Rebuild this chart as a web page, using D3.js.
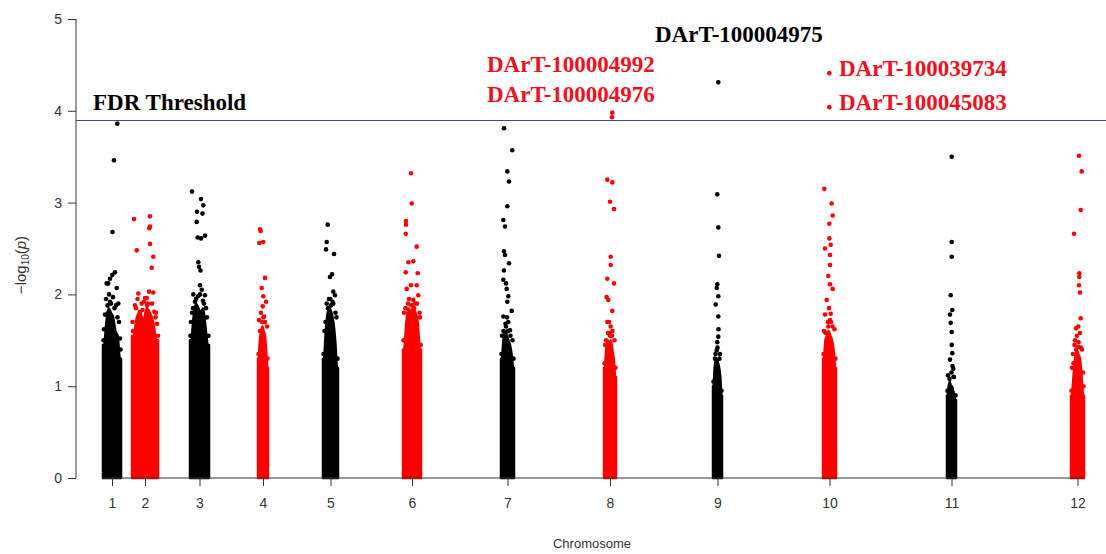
<!DOCTYPE html>
<html>
<head>
<meta charset="utf-8">
<script src="https://cdn.jsdelivr.net/npm/d3@7"></script>
<style>
  html, body { margin: 0; padding: 0; background: #fff; }
  svg { display: block; }
</style>
</head>
<body>
<svg id="chart" width="1106" height="554"></svg>
<script>
// ---------------- DATA ----------------
const chromosomes = ["1","2","3","4","5","6","7","8","9","10","11","12"];
// cumulative genome position span (arbitrary units) of each chromosome
const chrStart = [0, 29, 87, 155, 220, 300, 398, 501, 610, 720, 844, 968];
const chrEnd   = [18, 55, 106, 165, 235, 318, 411, 513, 619, 733, 853, 981];
const yTicks = [0, 1, 2, 3, 4, 5];
const fdrThreshold = 3.9;

// height of the saturated (overplotted) bulk of markers across each chromosome, -log10(p)
const coreTop = [
  [1.45, 1.7, 1.85, 1.8, 1.75, 1.6, 1.55, 1.3],
  [1.55, 1.75, 1.8, 1.7, 1.85, 1.8, 1.7, 1.5],
  [1.5, 1.75, 1.9, 1.85, 1.8, 1.85, 1.65, 1.45],
  [1.3, 1.5, 1.6, 1.65, 1.6, 1.55, 1.4, 1.2],
  [1.3, 1.6, 1.8, 1.85, 1.8, 1.7, 1.5, 1.2],
  [1.4, 1.7, 1.85, 1.8, 1.85, 1.8, 1.7, 1.4],
  [1.3, 1.5, 1.6, 1.55, 1.5, 1.45, 1.35, 1.2],
  [1.2, 1.4, 1.5, 1.45, 1.5, 1.4, 1.3, 1.1],
  [1.0, 1.2, 1.3, 1.3, 1.25, 1.2, 1.1, 0.9],
  [1.3, 1.5, 1.55, 1.6, 1.55, 1.5, 1.4, 1.2],
  [0.9, 1.0, 1.05, 1.0, 1.0, 0.95, 0.9, 0.85],
  [0.9, 1.1, 1.3, 1.4, 1.35, 1.3, 1.1, 0.9]
];

// individual markers above the bulk: [position, -log10(p)]
const chr1Hits = [[14.3,3.86],[11,3.46],[9.5,2.68],[12,2.24],[9.3,2.21],[7,2.17],[5.3,2.12],[3.7,2.12],[13.7,2.07],[7,1.92],[15.3,1.9],[5.3,1.8],[1,1.62],[3,1.95],[10,1.97],[13,1.88],[17,1.52],[16,1.7],
  [0.5,1.5],[2,1.78],[4.5,1.88],[6,2.0],[8,1.9],[11.5,1.85],[14.5,1.75],[17.5,1.4],[1.5,1.35]];
const chr2Hits = [[31,2.82],[47,2.85],[47,2.74],[46.3,2.72],[33.7,2.48],[47,2.55],[50.3,2.41],[48.7,2.29],[35.3,2.01],[42,1.96],[46,2.03],[50.3,2.02],[32,1.88],[38.7,1.9],[43.7,1.96],[51.3,1.81],[37,1.81],[29.5,1.7],[54,1.68],[41,1.92],[45,1.9],[52.5,1.75],
  [30,1.6],[33,1.85],[36,1.78],[39.5,1.83],[44,1.88],[49,1.9],[53,1.8],[55,1.55],[34.5,1.95]];
const chr3Hits = [[89,3.12],[98,3.04],[100.3,2.97],[94,2.9],[99.5,2.88],[93.7,2.79],[94.7,2.62],[98,2.61],[102,2.64],[95.3,2.35],[96,2.3],[97.5,2.26],[97,2.1],[98.7,2.05],[90.3,2.0],[102,1.99],[92,1.92],[100,1.93],[104,1.75],[88,1.7],[95,1.98],
  [87.5,1.55],[90,1.85],[93,1.95],[97,2.0],[101,1.9],[103,1.85],[105.5,1.55],[89,1.8]];
const chr4Hits = [[157,2.71],[157.7,2.69],[156.3,2.56],[160.3,2.57],[162,2.18],[158.7,2.07],[160.3,1.98],[163,1.92],[159.7,1.87],[161,1.76],[156,1.72],[164,1.65],[158,1.8],
  [155.5,1.35],[157,1.6],[159,1.7],[162,1.7],[164.5,1.3],[160.5,1.75]];
const chr5Hits = [[224.7,2.76],[223.7,2.57],[223,2.49],[231,2.44],[227,2.19],[229,2.22],[230.3,2.03],[232,1.99],[223.7,1.9],[230.3,1.9],[226,1.95],[233.5,1.75],[221.5,1.6],[228,1.88],
  [220.5,1.35],[222.5,1.7],[225,1.85],[229.5,1.92],[232.5,1.8],[234.5,1.3],[227.5,1.95]];
const chr6Hits = [[308,3.32],[308.7,2.99],[303,2.8],[303,2.76],[302.7,2.66],[313.7,2.52],[305.3,2.35],[310.3,2.36],[302.7,2.24],[314.7,2.23],[308,2.1],[313.7,2.1],[303.7,2.06],[315.3,1.99],[310.3,1.94],[301,1.8],[306,1.95],[312,1.9],[317,1.75],
  [300.5,1.5],[302.5,1.85],[305,1.9],[308.5,1.88],[311,1.85],[314,1.9],[316.5,1.8],[317.7,1.45]];
const chr7Hits = [[401,3.81],[409.3,3.57],[404.3,3.34],[406,3.23],[404.3,2.96],[400.3,2.81],[402,2.74],[401,2.47],[402,2.43],[406,2.34],[401,2.26],[400.3,2.16],[403,2.12],[403.7,2.06],[405.3,1.98],[404.3,1.92],[408.7,1.82],[400.3,1.76],[405.3,1.7],[407,1.61],[399,1.55],[409.5,1.5],[403,1.65],
  [398.5,1.35],[400.5,1.6],[402.5,1.68],[405,1.6],[407.5,1.55],[410.5,1.3],[404,1.75]];
const chr8Hits = [[509.3,3.98],[509,3.93],[504.3,3.25],[509.3,3.22],[507,3.01],[511,2.93],[507.7,2.41],[507.7,2.32],[504.3,2.17],[511,2.12],[503.7,1.97],[505.3,1.94],[509.3,1.82],[504.3,1.7],[507.7,1.65],[506.3,1.58],[502,1.45],[511.5,1.5],[509,1.55],
  [501.5,1.25],[503,1.5],[505,1.58],[507,1.55],[509.5,1.6],[512.5,1.2],[506,1.7]];
const chr9Hits = [[615.3,4.31],[614.3,3.09],[615.3,2.73],[616,2.42],[614.3,2.11],[613.7,2.07],[615.3,1.98],[612.7,1.89],[615.3,1.76],[615.3,1.54],[614.3,1.48],[613.7,1.39],[617,1.35],[612,1.3],
  [610.5,1.05],[612.5,1.35],[614.5,1.42],[616.5,1.3],[618.5,0.95],[615.5,1.62]];
const chr10Hits = [[726.3,4.41],[726.3,4.04],[721.3,3.15],[728.7,2.99],[729.7,2.86],[726.3,2.77],[726.3,2.61],[722,2.5],[727.7,2.54],[727,2.43],[727,2.32],[725.3,2.2],[727,2.11],[729.7,2.06],[723.7,1.94],[722,1.78],[727.7,1.79],[725.3,1.65],[721,1.6],[731.5,1.62],[728,1.7],
  [720.5,1.35],[722.5,1.58],[725,1.7],[727,1.72],[729.5,1.65],[732.5,1.3],[726,1.85]];
const chr11Hits = [[848.7,3.5],[848.7,2.57],[848.7,2.41],[847.7,1.99],[849.3,1.83],[847,1.78],[847.7,1.69],[848.7,1.59],[848.7,1.45],[849.3,1.36],[847,1.29],[850.3,1.19],[845,1.12],[851,1.1],
  [844.5,0.95],[846.5,1.08],[848.5,1.15],[850.5,1.1],[852.5,0.9],[849.5,1.22]];
const chr12Hits = [[976,3.51],[978.7,3.34],[977.7,2.92],[971,2.66],[976.3,2.23],[976.3,2.19],[976,2.1],[977,2.02],[977.7,1.74],[975.3,1.65],[973,1.63],[972,1.5],[975.3,1.43],[970,1.35],[979,1.4],[974,1.55],[969,1.2],[980,1.15],
  [968.5,0.95],[970.5,1.25],[973,1.4],[975.5,1.48],[978,1.42],[980.5,1.0],[977,1.58],[971.5,1.45]];
const hits = [chr1Hits, chr2Hits, chr3Hits, chr4Hits, chr5Hits, chr6Hits, chr7Hits, chr8Hits, chr9Hits, chr10Hits, chr11Hits, chr12Hits];

// annotation texts
const labelTexts = ["FDR Threshold", "DArT-100004975", "DArT-100004992", "DArT-100004976", "DArT-100039734", "DArT-100045083"];
const labelColors = ["#000000", "#000000", "#f0101e", "#f0101e", "#f0101e", "#f0101e"];

// ---------------- LAYOUT ----------------
const colors = ["#000000", "#ff0000"];
const svg = d3.select("#chart");
const x = d3.scaleLinear().domain([0, 981]).range([103, 1084]);
const y = d3.scaleLinear().domain([0, 5]).range([478, 19]);
const axisColor = "#333";

// bulk areas
chromosomes.forEach((c, i) => {
  const prof = coreTop[i];
  const n = prof.length;
  const w = (chrEnd[i] - chrStart[i]) / n;
  const pts = [[chrStart[i], prof[0]]]
    .concat(prof.map((v, k) => [chrStart[i] + (k + 0.5) * w, v]))
    .concat([[chrEnd[i], prof[n - 1]]]);
  const area = d3.area()
    .x(d => x(d[0]))
    .y0(y(0))
    .y1(d => y(d[1]))
    .curve(d3.curveMonotoneX);
  svg.append("path")
    .attr("d", area(pts))
    .attr("fill", colors[i % 2])
    .attr("stroke", colors[i % 2])
    .attr("stroke-width", 2.5)
    .attr("stroke-linejoin", "round");
});

// individual points
hits.forEach((arr, i) => {
  svg.append("g").selectAll("circle")
    .data(arr)
    .join("circle")
    .attr("cx", d => x(d[0]))
    .attr("cy", d => y(d[1]))
    .attr("r", 2.3)
    .attr("fill", colors[i % 2]);
});

// threshold line
svg.append("line")
  .attr("x1", 76).attr("x2", 1106)
  .attr("y1", y(fdrThreshold) + 0.5).attr("y2", y(fdrThreshold) + 0.5)
  .attr("stroke", "#4545a5").attr("stroke-width", 1)
  .attr("shape-rendering", "crispEdges");

// y axis
const yAxis = d3.axisLeft(y).tickValues(yTicks).tickSize(8).tickPadding(6).tickFormat(d3.format("d"));
const gy = svg.append("g").attr("transform", "translate(76,0)").call(yAxis);
gy.select(".domain").attr("stroke", axisColor).attr("d", `M0,${y(5)}V${y(0)}`);
gy.selectAll(".tick line").attr("stroke", axisColor);
gy.selectAll(".tick text").attr("fill", axisColor).attr("font-family", "Liberation Sans, Arial, sans-serif").attr("font-size", 14);

// x axis
const tickPos = chromosomes.map((c, i) => (chrStart[i] + chrEnd[i]) / 2);
const xAxis = d3.axisBottom(x).tickValues(tickPos).tickSize(8).tickPadding(12)
  .tickFormat((d, i) => chromosomes[i]);
const gx = svg.append("g").attr("transform", `translate(0,${y(0)})`).call(xAxis);
gx.select(".domain").attr("stroke", axisColor).attr("d", `M${x(0)},0H${x(981)}`);
gx.selectAll(".tick line").attr("stroke", axisColor);
gx.selectAll(".tick text").attr("fill", axisColor).attr("font-family", "Liberation Sans, Arial, sans-serif").attr("font-size", 14);

// axis titles
svg.append("text")
  .attr("x", 592).attr("y", 548)
  .attr("text-anchor", "middle")
  .attr("font-family", "Liberation Sans, Arial, sans-serif")
  .attr("font-size", 13).attr("fill", axisColor)
  .text("Chromosome");

const yl = svg.append("text")
  .attr("transform", "translate(26,265) rotate(-90)")
  .attr("text-anchor", "middle")
  .attr("font-family", "Liberation Sans, Arial, sans-serif")
  .attr("font-size", 15).attr("fill", axisColor);
yl.append("tspan").text("\u2212log");
yl.append("tspan").attr("font-size", 10).attr("dy", 3).text("10");
yl.append("tspan").attr("dy", -3).text("(");
yl.append("tspan").attr("font-style", "italic").text("p");
yl.append("tspan").text(")");

// annotations (left x in px, baseline via value scale)
const labelX = [93, 655, 487, 487, 839, 839];
const labelY = [4.01, 4.75, 4.42, 4.10, 4.38, 4.01];
labelTexts.forEach((t, i) => {
  svg.append("text")
    .attr("x", labelX[i])
    .attr("y", y(labelY[i]))
    .attr("font-family", "Liberation Serif, Times New Roman, serif")
    .attr("font-weight", "bold")
    .attr("font-size", 23)
    .attr("fill", labelColors[i])
    .text(t);
});
</script>
</body>
</html>
